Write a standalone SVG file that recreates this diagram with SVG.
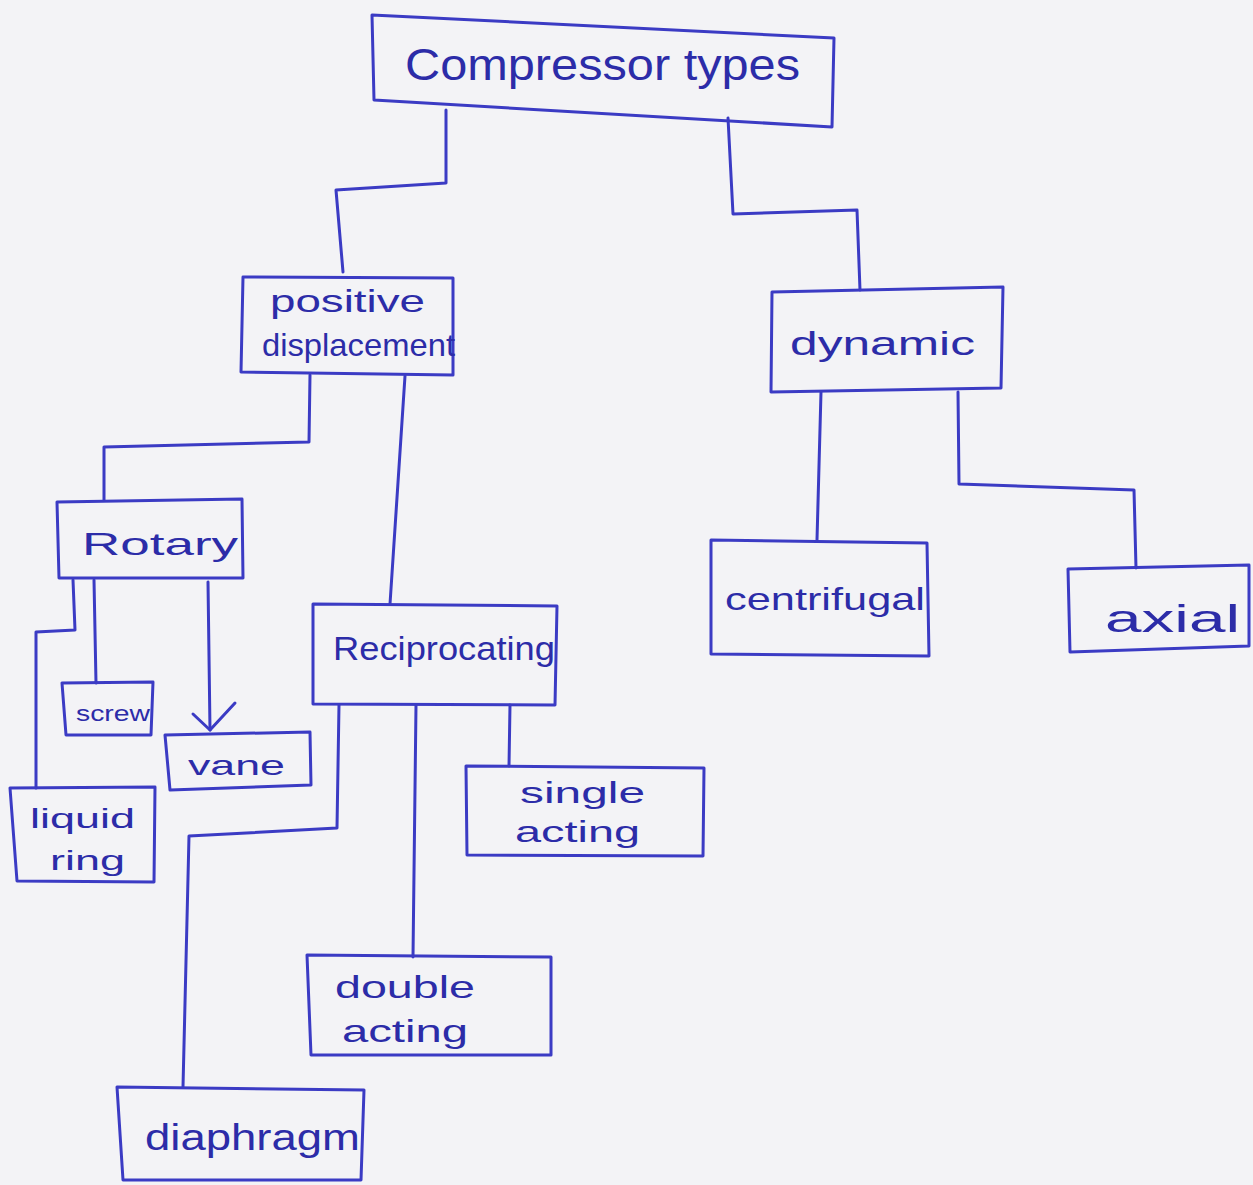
<svg xmlns="http://www.w3.org/2000/svg" width="1253" height="1185" viewBox="0 0 1253 1185">
<style>
.bg{fill:#f3f3f6}
.box{fill:none;stroke:#3b3bc4;stroke-width:3;stroke-linejoin:round}
.ln{fill:none;stroke:#3b3bc4;stroke-width:3;stroke-linejoin:round;stroke-linecap:round}
.t{font-family:"Liberation Sans","DejaVu Sans",sans-serif;fill:#2c2ca8}
</style>
<rect class="bg" x="0" y="0" width="1253" height="1185"/>
<g id="connectors">
<polyline class="ln" points="446,110 446,183 336,190 343,272"/>
<polyline class="ln" points="728,118 733,214 857,210 860,290"/>
<polyline class="ln" points="310,375 309,442 104,447 104,500"/>
<polyline class="ln" points="405,376 390,604"/>
<polyline class="ln" points="94,580 96,683"/>
<polyline class="ln" points="73,580 75,630 36,632 36,788"/>
<polyline class="ln" points="208,582 210,730"/>
<polyline class="ln" points="193,714 210,730 235,703"/>
<polyline class="ln" points="339,705 337,828 189,836 183,1087"/>
<polyline class="ln" points="416,705 413,957"/>
<polyline class="ln" points="510,705 509,766"/>
<polyline class="ln" points="821,392 817,540"/>
<polyline class="ln" points="958,392 959,484 1134,490 1136,568"/>
</g>
<g id="n-compressor">
<polygon class="box" points="372,15 834,38 832,127 374,100"/>
<text class="t" x="405" y="80" font-size="44" textLength="395" lengthAdjust="spacingAndGlyphs">Compressor types</text>
</g>
<g id="n-positive">
<polygon class="box" points="243,277 453,278 453,375 241,372"/>
<text class="t" x="270" y="312" font-size="32" textLength="155" lengthAdjust="spacingAndGlyphs">positive</text>
<text class="t" x="262" y="356" font-size="32" textLength="193" lengthAdjust="spacingAndGlyphs">displacement</text>
</g>
<g id="n-dynamic">
<polygon class="box" points="772,292 1003,287 1001,388 771,392"/>
<text class="t" x="790" y="355" font-size="34" textLength="185" lengthAdjust="spacingAndGlyphs">dynamic</text>
</g>
<g id="n-rotary">
<polygon class="box" points="57,502 242,499 243,578 59,578"/>
<text class="t" x="82" y="555" font-size="32" textLength="156" lengthAdjust="spacingAndGlyphs">Rotary</text>
</g>
<g id="n-reciprocating">
<polygon class="box" points="313,604 557,606 555,705 313,704"/>
<text class="t" x="333" y="660" font-size="34" textLength="222" lengthAdjust="spacingAndGlyphs">Reciprocating</text>
</g>
<g id="n-centrifugal">
<polygon class="box" points="711,540 927,543 929,656 711,654"/>
<text class="t" x="725" y="610" font-size="32" textLength="200" lengthAdjust="spacingAndGlyphs">centrifugal</text>
</g>
<g id="n-axial">
<polygon class="box" points="1068,569 1249,565 1249,646 1070,652"/>
<text class="t" x="1105" y="632" font-size="38" textLength="135" lengthAdjust="spacingAndGlyphs">axial</text>
</g>
<g id="n-screw">
<polygon class="box" points="62,683 153,682 151,735 66,735"/>
<text class="t" x="76" y="721" font-size="22" textLength="74" lengthAdjust="spacingAndGlyphs">screw</text>
</g>
<g id="n-vane">
<polygon class="box" points="165,735 310,732 311,785 170,790"/>
<text class="t" x="188" y="775" font-size="28" textLength="97" lengthAdjust="spacingAndGlyphs">vane</text>
</g>
<g id="n-liquid-ring">
<polygon class="box" points="10,788 155,787 154,882 17,881"/>
<text class="t" x="30" y="828" font-size="28" textLength="105" lengthAdjust="spacingAndGlyphs">liquid</text>
<text class="t" x="50" y="870" font-size="28" textLength="75" lengthAdjust="spacingAndGlyphs">ring</text>
</g>
<g id="n-single-acting">
<polygon class="box" points="466,766 704,768 703,856 467,855"/>
<text class="t" x="520" y="803" font-size="30" textLength="125" lengthAdjust="spacingAndGlyphs">single</text>
<text class="t" x="515" y="842" font-size="30" textLength="125" lengthAdjust="spacingAndGlyphs">acting</text>
</g>
<g id="n-double-acting">
<polygon class="box" points="307,955 551,957 551,1055 311,1055"/>
<text class="t" x="335" y="998" font-size="32" textLength="140" lengthAdjust="spacingAndGlyphs">double</text>
<text class="t" x="342" y="1042" font-size="32" textLength="126" lengthAdjust="spacingAndGlyphs">acting</text>
</g>
<g id="n-diaphragm">
<polygon class="box" points="117,1087 364,1090 361,1180 123,1180"/>
<text class="t" x="145" y="1150" font-size="36" textLength="215" lengthAdjust="spacingAndGlyphs">diaphragm</text>
</g>
</svg>
